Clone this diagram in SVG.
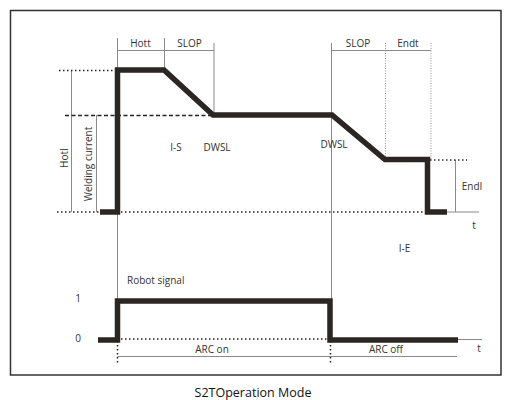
<svg xmlns="http://www.w3.org/2000/svg" width="511" height="400" viewBox="0 0 511 400">
<style>
.wave{fill:none;stroke:#2b2523;stroke-width:5.5;stroke-linejoin:miter;stroke-linecap:butt}
.thin{fill:none;stroke:#8a8a8a;stroke-width:1}
.dot{fill:none;stroke:#222;stroke-width:1.5;stroke-dasharray:1.5 2.5}
.dash{fill:none;stroke:#222;stroke-width:1.5;stroke-dasharray:4 2.5}
.vdot{fill:none;stroke:#999;stroke-width:1;stroke-dasharray:1 1.5}
text{font-family:"Open Sans","Noto Sans","DejaVu Sans",sans-serif;font-size:10px;fill:#333}
</style>
<rect width="511" height="400" fill="#fff"/>
<rect x="10.5" y="10.5" width="490.5" height="364.5" fill="none" stroke="#333" stroke-width="1.5"/>
<g id="connectors">
<!-- guide lines top -->
<line class="thin" x1="117.5" y1="38" x2="117.5" y2="300"/>
<line class="thin" x1="117.5" y1="50.5" x2="214" y2="50.5"/>
<line class="thin" x1="164.5" y1="38" x2="164.5" y2="70"/>
<line class="thin" x1="214" y1="43" x2="214" y2="115"/>
<line class="thin" x1="331.5" y1="43" x2="331.5" y2="300"/>
<line class="thin" x1="331.5" y1="50.5" x2="431" y2="50.5"/>
<line class="vdot" x1="385.5" y1="43" x2="385.5" y2="159"/>
<line class="vdot" x1="431" y1="43" x2="431" y2="159"/>
<line class="thin" x1="71.5" y1="70" x2="71.5" y2="212"/>
<line class="thin" x1="96.5" y1="115" x2="96.5" y2="212"/>
<line class="thin" x1="455.5" y1="160" x2="455.5" y2="212"/>
<!-- reference levels -->
<line class="dot" x1="59" y1="70.5" x2="115" y2="70.5"/>
<line class="dash" x1="65" y1="115.5" x2="212" y2="115.5"/>
<line class="dot" x1="57" y1="212" x2="425" y2="212"/>
<line class="dot" x1="430" y1="160" x2="467" y2="160"/>
<line class="thin" x1="447" y1="212" x2="479" y2="212"/>
<!-- bottom -->
<line class="dot" x1="121" y1="339" x2="329" y2="339"/>
<line class="thin" x1="458" y1="339.5" x2="482" y2="339.5"/>
<line class="dot" x1="117.5" y1="341" x2="117.5" y2="364"/>
<line class="dot" x1="330.5" y1="341" x2="330.5" y2="364"/>
<line class="thin" x1="117.5" y1="356.5" x2="330" y2="356.5"/>
<line class="thin" x1="330" y1="356.5" x2="457" y2="356.5"/>
</g>
<g id="current-wave">
<polyline class="wave" points="100,212 117.5,212 117.5,70 164,70 213,115 332,115 385,159.5 427.5,159.5 427.5,212 447,212"/>
</g>
<g id="signal-wave">
<polyline class="wave" points="98,340 117.5,340 117.5,301 330,301 330,340 458,340"/>
</g>
<g id="labels">
<text x="140.5" y="47" text-anchor="middle">Hott</text>
<text x="189.5" y="47" text-anchor="middle">SLOP</text>
<text x="358" y="47" text-anchor="middle">SLOP</text>
<text x="408" y="47" text-anchor="middle">Endt</text>
<text x="176" y="151" text-anchor="middle">I-S</text>
<text x="217" y="151" text-anchor="middle">DWSL</text>
<text x="334" y="148" text-anchor="middle">DWSL</text>
<text x="404.5" y="252" text-anchor="middle">I-E</text>
<text x="472" y="190" text-anchor="middle">EndI</text>
<text x="474" y="229" text-anchor="middle">t</text>
<text x="479" y="352" text-anchor="middle">t</text>
<text x="0" y="0" text-anchor="middle" transform="translate(67.5,158) rotate(-90)">HotI</text>
<text x="0" y="0" text-anchor="middle" transform="translate(91.5,164) rotate(-90)">Welding current</text>
<text x="127" y="284">Robot  signal</text>
<text x="78" y="302" text-anchor="middle">1</text>
<text x="78" y="342" text-anchor="middle">0</text>
<text x="212" y="353" text-anchor="middle">ARC on</text>
<text x="386" y="353" text-anchor="middle">ARC off</text>
<text x="253" y="397" text-anchor="middle" style="font-size:12.5px;fill:#111">S2TOperation Mode</text>
</g>
</svg>
